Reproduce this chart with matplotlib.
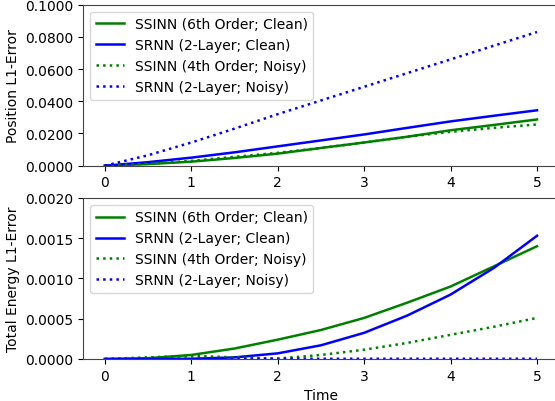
import numpy as np
import matplotlib
matplotlib.use("Agg")
import matplotlib.pyplot as plt
import matplotlib.ticker as mticker

# time samples
t = [0, 0.5, 1, 1.5, 2, 2.5, 3, 3.5, 4, 4.5, 5]

# position L1-error
pos_ssinn_clean = [0, 0.0010, 0.0025, 0.0048, 0.0075, 0.0110, 0.0144, 0.0180, 0.0220, 0.0253, 0.0287]
pos_srnn_clean = [0, 0.0022, 0.0050, 0.0083, 0.0120, 0.0157, 0.0194, 0.0235, 0.0275, 0.0310, 0.0344]
pos_ssinn_noisy = [0, 0.0012, 0.0030, 0.0055, 0.0080, 0.0110, 0.0144, 0.0180, 0.0210, 0.0235, 0.0256]
pos_srnn_noisy = [0, 0.0065, 0.0144, 0.0230, 0.0320, 0.0405, 0.0490, 0.0575, 0.0660, 0.0745, 0.0830]

# total energy L1-error
en_ssinn_clean = [0, 0.00001, 0.00005, 0.00013, 0.00024, 0.00036, 0.00051, 0.00070, 0.00090, 0.00115, 0.00140]
en_srnn_clean = [0, 0.0, 0.000003, 0.00002, 0.00007, 0.00017, 0.000325, 0.00054, 0.00080, 0.00113, 0.00153]
en_ssinn_noisy = [0, 0.00002, 0.00004, 0.00002, 0.000005, 0.00005, 0.000115, 0.00020, 0.00030, 0.00040, 0.00051]
en_srnn_noisy = [0, 0.000002, 0.000002, 0.000003, 0.000003, 0.000003, 0.000003, 0.000003, 0.000003, 0.000003, 0.000003]

labels = ["SSINN (6th Order; Clean)", "SRNN (2-Layer; Clean)",
          "SSINN (4th Order; Noisy)", "SRNN (2-Layer; Noisy)"]
colors = ["green", "blue", "green", "blue"]
styles = ["-", "-", ":", ":"]

fig, (ax1, ax2) = plt.subplots(2, 1, figsize=(5.55, 4.02), dpi=100)

panels = [
    (ax1, [pos_ssinn_clean, pos_srnn_clean, pos_ssinn_noisy, pos_srnn_noisy], "Position L1-Error", 0.1),
    (ax2, [en_ssinn_clean, en_srnn_clean, en_ssinn_noisy, en_srnn_noisy], "Total Energy L1-Error", 0.002),
]

for ax, series, ylab, ymax in panels:
    for y, lab, c, ls in zip(series, labels, colors, styles):
        ax.plot(t, y, color=c, linestyle=ls, linewidth=1.8, label=lab)
    ax.set_ylim(0, ymax)
    ax.set_ylabel(ylab)
    ax.yaxis.set_major_formatter(mticker.FormatStrFormatter('%.4f'))
    ax.legend(loc="upper left")
    for sp in ax.spines.values():
        sp.set_color("#444444")

ax1.yaxis.set_major_locator(mticker.MultipleLocator(0.02))
ax2.yaxis.set_major_locator(mticker.MultipleLocator(0.0005))
ax2.set_xlabel("Time")

# axes run slightly past the right edge of the picture, as in the original crop
plt.subplots_adjust(left=0.150, right=1.0065, top=0.986, bottom=0.1045, hspace=0.20)
plt.savefig("out.png", dpi=100)
plt.close()
